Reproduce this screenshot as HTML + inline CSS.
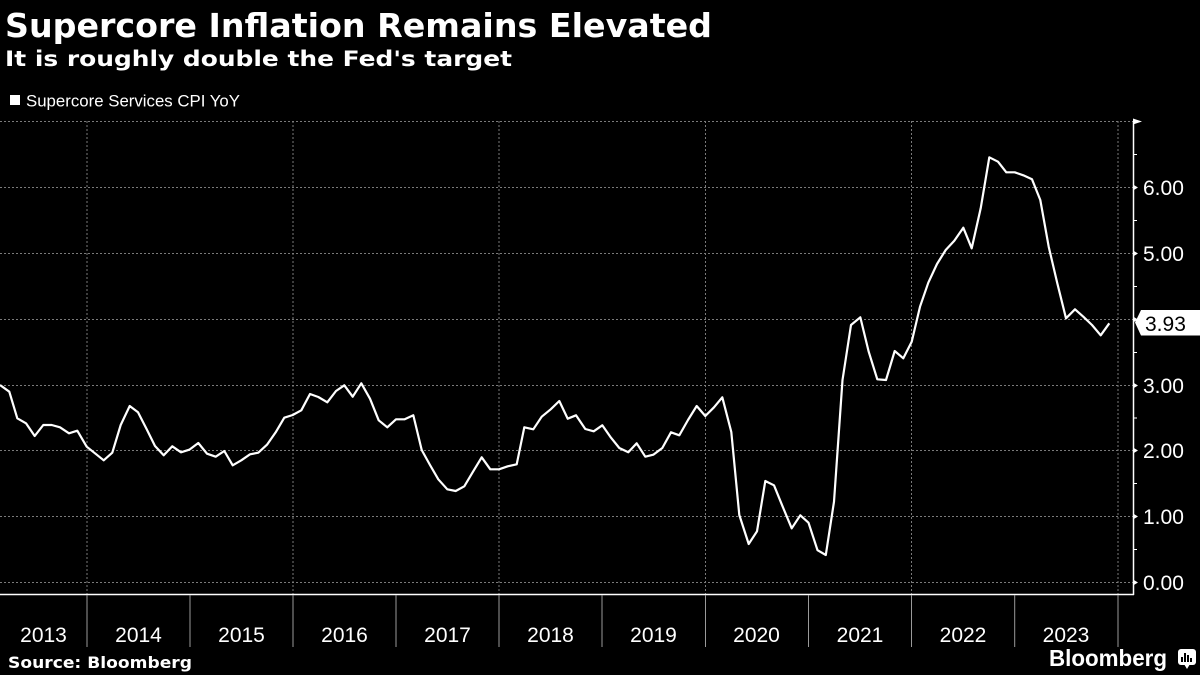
<!DOCTYPE html>
<html><head><meta charset="utf-8">
<style>
html,body{margin:0;padding:0;background:#000;}
svg{display:block;}
</style></head>
<body>
<svg width="1200" height="675" viewBox="0 0 1200 675" xmlns="http://www.w3.org/2000/svg">
<rect x="0" y="0" width="1200" height="675" fill="#000"/>
<!-- titles -->
<text x="5" y="37" font-family="DejaVu Sans, Liberation Sans, sans-serif" font-weight="bold" font-size="33" fill="#fff" textLength="707" lengthAdjust="spacingAndGlyphs">Supercore Inflation Remains Elevated</text>
<text x="5" y="66" font-family="DejaVu Sans, Liberation Sans, sans-serif" font-weight="bold" font-size="21" fill="#fff" textLength="507" lengthAdjust="spacingAndGlyphs">It is roughly double the Fed's target</text>
<!-- legend -->
<rect x="10" y="95" width="10" height="10" fill="#fff"/>
<text x="26" y="106.5" font-family="Liberation Sans, sans-serif" font-size="17" fill="#fff" textLength="214" lengthAdjust="spacingAndGlyphs">Supercore Services CPI YoY</text>
<!-- grid -->
<g stroke="#7a7a7a" stroke-width="1" stroke-dasharray="2,2" fill="none">
<line x1="0" y1="121.5" x2="1133" y2="121.5"/>
<line x1="0" y1="187.5" x2="1133" y2="187.5"/>
<line x1="0" y1="253.5" x2="1133" y2="253.5"/>
<line x1="0" y1="319.5" x2="1133" y2="319.5"/>
<line x1="0" y1="385.5" x2="1133" y2="385.5"/>
<line x1="0" y1="450.5" x2="1133" y2="450.5"/>
<line x1="0" y1="516.5" x2="1133" y2="516.5"/>
<line x1="0" y1="582.5" x2="1133" y2="582.5"/>
<line x1="87" y1="121" x2="87" y2="594"/>
<line x1="293" y1="121" x2="293" y2="594"/>
<line x1="499" y1="121" x2="499" y2="594"/>
<line x1="705.5" y1="121" x2="705.5" y2="594"/>
<line x1="911.5" y1="121" x2="911.5" y2="594"/>
<line x1="1118" y1="121" x2="1118" y2="594"/>
</g>
<!-- axes -->
<line x1="0" y1="594.5" x2="1134" y2="594.5" stroke="#fff" stroke-width="1.5"/>
<line x1="1133.5" y1="121" x2="1133.5" y2="595" stroke="#fff" stroke-width="1.5"/>
<polygon points="1133,118.5 1142,121.5 1133,124.5" fill="#fff"/>
<g fill="#fff">
<polygon points="1133,184.5 1138,187.5 1133,190.5"/>
<polygon points="1133,250.5 1138,253.5 1133,256.5"/>
<polygon points="1133,316.5 1138,319.5 1133,322.5"/>
<polygon points="1133,382.5 1138,385.5 1133,388.5"/>
<polygon points="1133,447.5 1138,450.5 1133,453.5"/>
<polygon points="1133,513.5 1138,516.5 1133,519.5"/>
<polygon points="1133,579.5 1138,582.5 1133,585.5"/>
</g>
<g stroke="#fff" stroke-width="1">
<line x1="1133" y1="154.5" x2="1137" y2="154.5"/>
<line x1="1133" y1="220.5" x2="1137" y2="220.5"/>
<line x1="1133" y1="286.5" x2="1137" y2="286.5"/>
<line x1="1133" y1="352.5" x2="1137" y2="352.5"/>
<line x1="1133" y1="418" x2="1137" y2="418"/>
<line x1="1133" y1="483.5" x2="1137" y2="483.5"/>
<line x1="1133" y1="549.5" x2="1137" y2="549.5"/>
</g>
<!-- right axis labels -->
<g font-family="Liberation Sans, sans-serif" font-size="21" fill="#fff">
<text x="1143" y="195">6.00</text>
<text x="1143" y="261">5.00</text>
<text x="1143" y="393">3.00</text>
<text x="1143" y="458">2.00</text>
<text x="1143" y="524">1.00</text>
<text x="1143" y="590">0.00</text>
</g>
<!-- year dividers -->
<g stroke="#9a9a9a" stroke-width="1">
<line x1="87" y1="595" x2="87" y2="647"/>
<line x1="190" y1="595" x2="190" y2="647"/>
<line x1="293" y1="595" x2="293" y2="647"/>
<line x1="396" y1="595" x2="396" y2="647"/>
<line x1="499" y1="595" x2="499" y2="647"/>
<line x1="602" y1="595" x2="602" y2="647"/>
<line x1="705.5" y1="595" x2="705.5" y2="647"/>
<line x1="808.5" y1="595" x2="808.5" y2="647"/>
<line x1="911.5" y1="595" x2="911.5" y2="647"/>
<line x1="1014.7" y1="595" x2="1014.7" y2="647"/>
<line x1="1118" y1="595" x2="1118" y2="647"/>
</g>
<g font-family="Liberation Sans, sans-serif" font-size="21" fill="#fff" text-anchor="middle">
<text x="43.5" y="642">2013</text>
<text x="138.5" y="642">2014</text>
<text x="241.5" y="642">2015</text>
<text x="344.5" y="642">2016</text>
<text x="447.5" y="642">2017</text>
<text x="550.5" y="642">2018</text>
<text x="653.5" y="642">2019</text>
<text x="756.5" y="642">2020</text>
<text x="860" y="642">2021</text>
<text x="963" y="642">2022</text>
<text x="1066" y="642">2023</text>
</g>
<!-- data line -->
<polyline fill="none" stroke="#fff" stroke-width="2.2" stroke-linejoin="round" points="
0,385 9.3,391.7 17.3,418.3 26,423.3 34.7,436 43.3,425 51.7,425 60,427.3 69,433.3 77.3,430.7
86.7,446.7 95,453.3 103.7,460.3 112.3,452.7 120.7,425 129.7,406 138,412.3 146.7,429.3 155,446 163.7,455.3
172.3,446.3 181,452.3 189.3,449.7 198.3,443 207,453.7 215.7,456.7 224.3,451 232.7,465.3 241.3,460.3 250,454.3
258.3,452.7 267,444.7 275.7,432.3 284.3,417.7 292.7,415 301.3,410.3 310,394 318.3,397 327.3,402.3 336,391
344.3,385.3 352.7,396.7 361.3,383.3 370,398.7 378.7,420.3 387.3,427.3 396,419.3 404.7,419.3 413.3,415.3 421.7,450
430,465 438.3,479.3 447.3,489.3 455.7,491 464.3,486.3 473,471.7 481.7,457.3 490.3,469.3 499,469.3 507.7,466.3
516.7,464.3 524.3,427.3 533.3,429.3 541.7,416.7 550.7,409.3 559.3,401 567.7,418.7 576,415.3 585.3,429 593.7,431.3
602.3,425.3 611,437.7 619.3,448 628.3,452.3 636.7,443.3 645.3,456.7 653.3,454.7 662.3,448 671,432.3 679.3,435.3
688,420 696.7,406 705.3,416 714,407.3 722.3,397.3 731.3,432 739.3,515 748.7,544 757,531.3 765.3,481
774,485.3 782.7,506.7 791.7,528.3 800.3,515.3 808.5,522.7 817.5,550.2 825.8,555 834,501.7 842.5,380 851,325
860.3,317.3 868.7,351.7 877.3,379.3 886,380 894.7,351 903.3,358.3 911.7,341.7 920,306.7 928.3,282.7 937,264
945.7,250 954.3,240.7 963.3,227.7 971.7,248.3 980.7,208.3 989.3,157.3 998,161.7 1006.3,172.3 1014.7,172.3 1023.3,175.3
1032,179.3 1040.3,200 1048.7,246.7 1057.3,283.3 1066,318.3 1075,309.3 1083.3,316.7 1092,325 1100.7,335.3 1109.3,323.3"/>
<!-- last value label -->
<polygon points="1135,322.5 1141,310 1200,310 1200,335.5 1141,335.5" fill="#fff"/>
<text x="1145" y="331" font-family="Liberation Sans, sans-serif" font-size="21" fill="#000">3.93</text>
<!-- footer -->
<text x="8" y="668" font-family="DejaVu Sans, Liberation Sans, sans-serif" font-weight="bold" font-size="16" fill="#fff" textLength="184" lengthAdjust="spacingAndGlyphs">Source:  Bloomberg</text>
<text x="1049" y="666" font-family="Liberation Sans, sans-serif" font-weight="bold" font-size="23" fill="#fff" textLength="118" lengthAdjust="spacingAndGlyphs">Bloomberg</text>
<g>
<rect x="1178" y="649" width="18" height="16" rx="3" fill="#fff"/>
<polygon points="1184,664 1190,664 1187,669" fill="#fff"/>
<g fill="#000">
<rect x="1181" y="657" width="2" height="5"/>
<rect x="1184" y="653" width="2" height="9"/>
<rect x="1187" y="655" width="2" height="7"/>
<rect x="1190" y="658" width="2" height="4"/>
</g>
</g>
</svg>
</body></html>
